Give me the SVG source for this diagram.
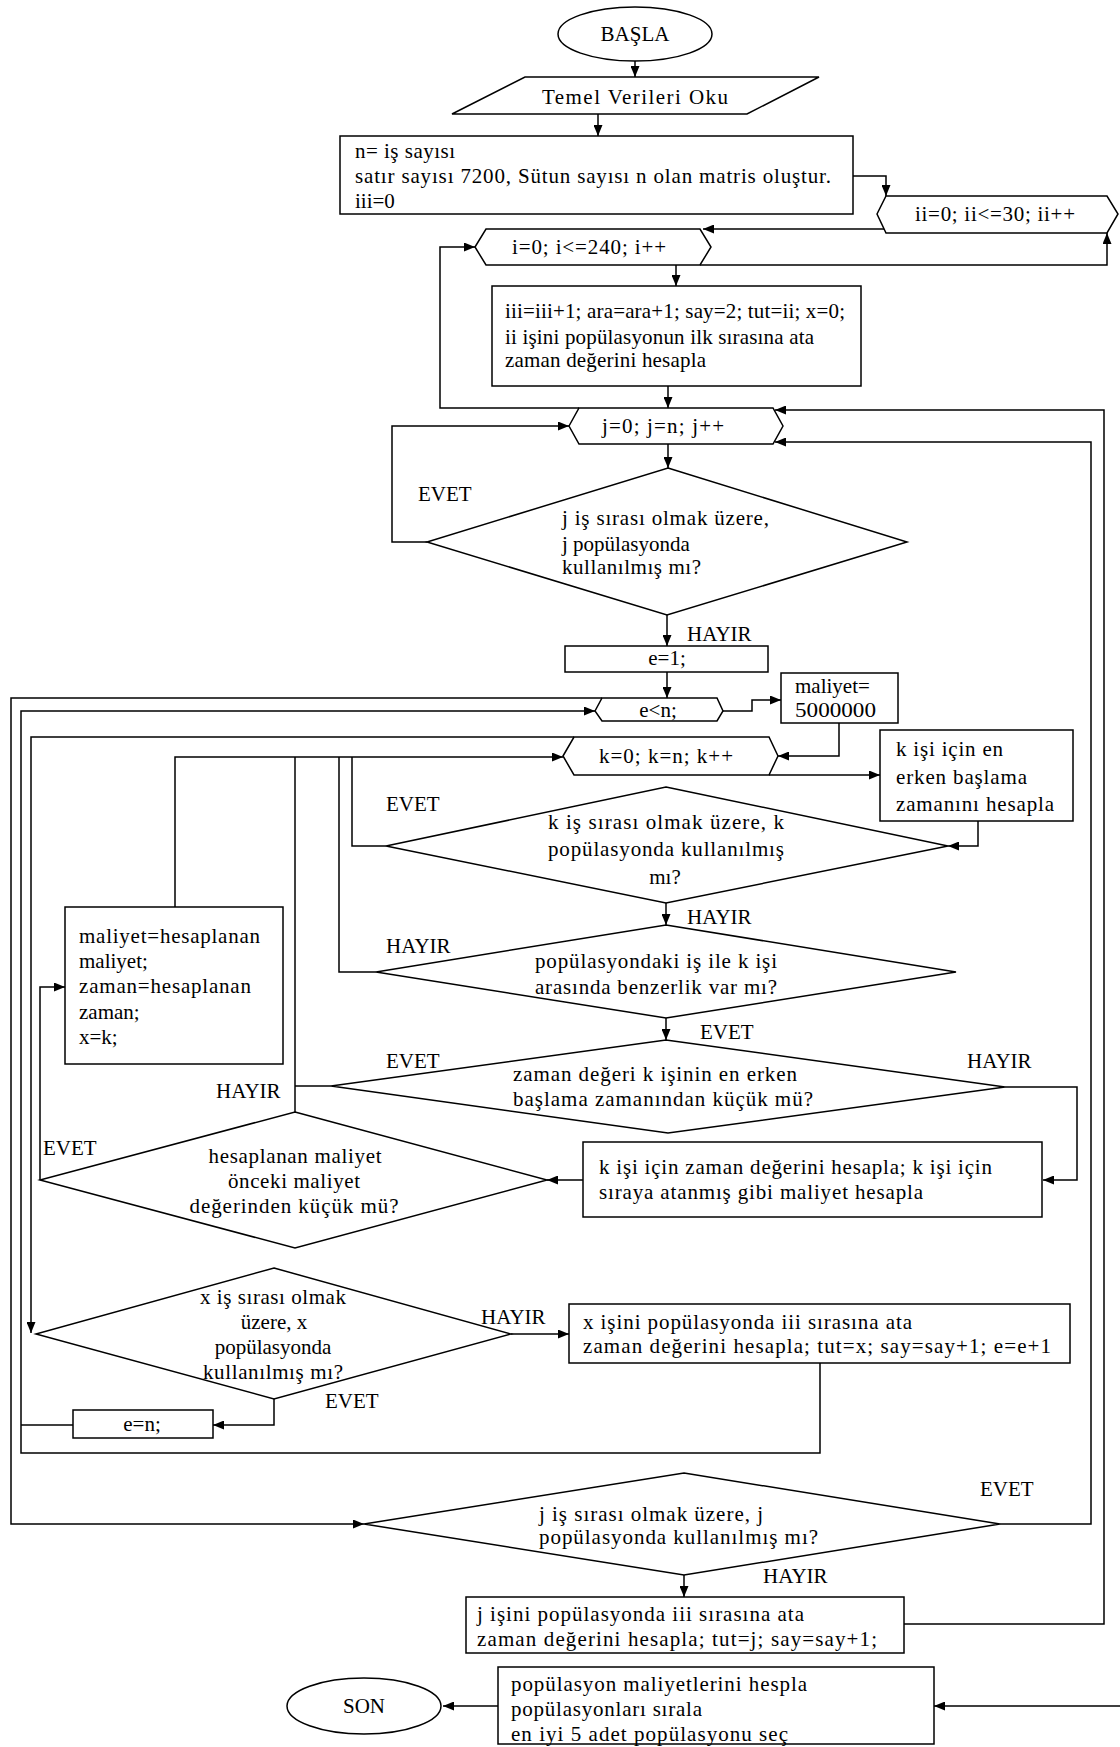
<svg xmlns="http://www.w3.org/2000/svg" width="1120" height="1747" viewBox="0 0 1120 1747">
<style>
.s{fill:#fff;stroke:#000;stroke-width:1.5}
.c{fill:none;stroke:#000;stroke-width:1.5}
.a{marker-end:url(#ar)}
text{font-family:"Liberation Serif","Times New Roman",serif;font-size:21px;fill:#000}
.m{text-anchor:middle}
</style>
<defs>
<marker id="ar" markerWidth="11" markerHeight="9" refX="11" refY="4.5" orient="auto" markerUnits="userSpaceOnUse"><path d="M0,0 L11,4.5 L0,9 z" fill="#000"/></marker>
</defs>
<rect width="1120" height="1747" fill="#fff"/>

<g id="connectors">
<path class="c a" d="M635,61 V77"/>
<path class="c a" d="M598,114 V136"/>
<path class="c a" d="M853,176 H886 V196"/>
<path class="c a" d="M884,229 H703"/>
<path class="c a" d="M700,265 H1107 V233"/>
<path class="c a" d="M676,265 V286"/>
<path class="c a" d="M668,386 V408"/>
<path class="c a" d="M579,408 H440 V247 H475"/>
<path class="c a" d="M668,444 V468"/>
<path class="c a" d="M427,542 H392 V426 H569"/>
<path class="c a" d="M667,615 V646"/>
<path class="c a" d="M667,672 V698"/>
<path class="c a" d="M723,711 H752 V700 H781"/>
<path class="c a" d="M839,723 V756 H778"/>
<path class="c a" d="M769,775 H880"/>
<path class="c a" d="M978,821 V846 H948"/>
<path class="c a" d="M666,903 V925"/>
<path class="c a" d="M666,1018 V1040"/>
<path class="c" d="M386,846 H352 V757"/>
<path class="c" d="M376,972 H339 V757"/>
<path class="c a" d="M175,907 V757 H563"/>
<path class="c" d="M295,1112 V757"/>
<path class="c" d="M331,1086 H295"/>
<path class="c a" d="M1005,1087 H1077 V1180 H1043"/>
<path class="c a" d="M583,1180 H547"/>
<path class="c a" d="M40,1180 V987 H65"/>
<path class="c a" d="M574,737 H31 V1333"/>
<path class="c a" d="M511,1334 H569"/>
<path class="c a" d="M274,1399 V1425 H213"/>
<path class="c" d="M73,1425 H21"/>
<path class="c a" d="M820,1363 V1453 H21 V711 H595"/>
<path class="c a" d="M602,698 H11 V1524 H364"/>
<path class="c a" d="M1000,1524 H1091 V442 H775"/>
<path class="c a" d="M684,1575 V1597"/>
<path class="c a" d="M904,1624 H1104 V410 H775"/>
<path class="c a" d="M1120,1706 H934"/>
<path class="c a" d="M498,1706 H443"/>
</g>

<g id="basla"><ellipse class="s" cx="635" cy="34" rx="77" ry="27"/><text class="m" x="635" y="41">BAŞLA</text></g>
<g id="oku"><polygon class="s" points="525,77 819,77 747,114 452,114"/><text class="m" x="635" y="104" textLength="186" lengthAdjust="spacing">Temel Verileri Oku</text></g>
<g id="init"><rect class="s" x="340" y="136" width="513" height="78"/>
<text x="355" y="158" textLength="100" lengthAdjust="spacing">n= iş sayısı</text>
<text x="355" y="183" textLength="476" lengthAdjust="spacing">satır sayısı 7200, Sütun sayısı n olan matris oluştur.</text>
<text x="355" y="208">iii=0</text></g>
<g id="loop-ii"><polygon class="s" points="877,214 886,196 1107,196 1118,214 1107,233 886,233"/><text class="m" x="995" y="221" textLength="160" lengthAdjust="spacing">ii=0; ii&lt;=30; ii++</text></g>
<g id="loop-i"><polygon class="s" points="475,247 486,229 700,229 711,247 700,265 486,265"/><text class="m" x="589" y="254" textLength="154" lengthAdjust="spacing">i=0; i&lt;=240; i++</text></g>
<g id="iii"><rect class="s" x="492" y="286" width="369" height="100"/>
<text x="505" y="318" textLength="340" lengthAdjust="spacing">iii=iii+1;  ara=ara+1; say=2; tut=ii;  x=0;</text>
<text x="505" y="344" textLength="309" lengthAdjust="spacing">ii işini popülasyonun ilk sırasına ata</text>
<text x="505" y="367" textLength="201" lengthAdjust="spacing">zaman değerini hesapla</text></g>
<g id="loop-j"><polygon class="s" points="569,426 579,408 773,408 783,426 773,444 579,444"/><text class="m" x="663" y="433" textLength="122" lengthAdjust="spacing">j=0; j=n; j++</text></g>
<g id="d1"><polygon class="s" points="668,468 907,542 667,615 427,542"/>
<text x="562" y="525" textLength="207" lengthAdjust="spacing">j iş sırası olmak üzere,</text>
<text x="562" y="551">j popülasyonda</text>
<text x="562" y="574" textLength="139" lengthAdjust="spacing">kullanılmış mı?</text>
<text x="418" y="501">EVET</text><text x="687" y="641">HAYIR</text></g>
<g id="e1"><rect class="s" x="565" y="646" width="203" height="26"/><text class="m" x="667" y="665">e=1;</text></g>
<g id="loop-e"><polygon class="s" points="595,711 602,698 717,698 723,711 717,721 602,721"/><text class="m" x="658" y="717">e&lt;n;</text></g>
<g id="maliyet0"><rect class="s" x="781" y="673" width="117" height="50"/><text x="795" y="693">maliyet=</text><text x="795" y="717" textLength="81" lengthAdjust="spacingAndGlyphs">5000000</text></g>
<g id="loop-k"><polygon class="s" points="563,756 574,737 769,737 778,756 769,775 574,775"/><text class="m" x="666" y="763" textLength="134" lengthAdjust="spacing">k=0; k=n; k++</text></g>
<g id="kbox"><rect class="s" x="880" y="730" width="193" height="91"/>
<text x="896" y="756" textLength="107" lengthAdjust="spacing">k işi için en</text>
<text x="896" y="784" textLength="131" lengthAdjust="spacing">erken başlama</text>
<text x="896" y="811" textLength="158" lengthAdjust="spacing">zamanını hesapla</text></g>
<g id="d2"><polygon class="s" points="666,787 948,846 666,903 386,846"/>
<text class="m" x="666" y="829" textLength="236" lengthAdjust="spacing">k iş sırası olmak üzere, k</text>
<text class="m" x="666" y="856" textLength="236" lengthAdjust="spacing">popülasyonda kullanılmış</text>
<text class="m" x="665" y="884">mı?</text>
<text x="386" y="811">EVET</text><text x="687" y="924">HAYIR</text></g>
<g id="d3"><polygon class="s" points="666,925 956,972 666,1018 376,972"/>
<text class="m" x="656" y="968" textLength="242" lengthAdjust="spacing">popülasyondaki iş ile k işi</text>
<text class="m" x="656" y="994" textLength="242" lengthAdjust="spacing">arasında benzerlik var mı?</text>
<text x="386" y="953">HAYIR</text><text x="700" y="1039">EVET</text></g>
<g id="d4"><polygon class="s" points="666,1040 1005,1087 668,1133 331,1086"/>
<text x="513" y="1081" textLength="284" lengthAdjust="spacing">zaman değeri k işinin en erken</text>
<text x="513" y="1106" textLength="300" lengthAdjust="spacing">başlama zamanından küçük mü?</text>
<text x="386" y="1068">EVET</text><text x="967" y="1068">HAYIR</text></g>
<g id="kzaman"><rect class="s" x="583" y="1142" width="459" height="75"/>
<text x="599" y="1174" textLength="393" lengthAdjust="spacing">k işi için zaman değerini hesapla; k işi için</text>
<text x="599" y="1199" textLength="324" lengthAdjust="spacing">sıraya atanmış gibi maliyet hesapla</text></g>
<g id="d5"><polygon class="s" points="295,1112 547,1180 295,1248 40,1180"/>
<text class="m" x="295" y="1163" textLength="173" lengthAdjust="spacing">hesaplanan maliyet</text>
<text class="m" x="294" y="1188" textLength="132" lengthAdjust="spacing">önceki maliyet</text>
<text class="m" x="294" y="1213" textLength="209" lengthAdjust="spacing">değerinden küçük mü?</text>
<text x="43" y="1155">EVET</text><text x="216" y="1098">HAYIR</text></g>
<g id="mbox"><rect class="s" x="65" y="907" width="218" height="157"/>
<text x="79" y="943" textLength="181" lengthAdjust="spacing">maliyet=hesaplanan</text>
<text x="79" y="968">maliyet;</text>
<text x="79" y="993" textLength="172" lengthAdjust="spacing">zaman=hesaplanan</text>
<text x="79" y="1019">zaman;</text>
<text x="79" y="1044">x=k;</text></g>
<g id="d6"><polygon class="s" points="274,1268 511,1334 274,1399 36,1334"/>
<text class="m" x="273" y="1304" textLength="146" lengthAdjust="spacing">x iş sırası olmak</text>
<text class="m" x="274" y="1329">üzere, x</text>
<text class="m" x="273" y="1354">popülasyonda</text>
<text class="m" x="273" y="1379" textLength="140" lengthAdjust="spacing">kullanılmış mı?</text>
<text x="325" y="1408">EVET</text><text x="481" y="1324">HAYIR</text></g>
<g id="xbox"><rect class="s" x="569" y="1304" width="501" height="59"/>
<text x="583" y="1329" textLength="329" lengthAdjust="spacing">x işini popülasyonda iii sırasına ata</text>
<text x="583" y="1353" textLength="468" lengthAdjust="spacing">zaman değerini hesapla;  tut=x; say=say+1; e=e+1</text></g>
<g id="en"><rect class="s" x="73" y="1410" width="140" height="28"/><text class="m" x="142" y="1431">e=n;</text></g>
<g id="d7"><polygon class="s" points="684,1473 1000,1524 684,1575 364,1524"/>
<text x="539" y="1521" textLength="224" lengthAdjust="spacing">j iş sırası olmak üzere, j</text>
<text x="539" y="1544" textLength="279" lengthAdjust="spacing">popülasyonda kullanılmış mı?</text>
<text x="980" y="1496">EVET</text><text x="763" y="1583">HAYIR</text></g>
<g id="jbox"><rect class="s" x="466" y="1597" width="438" height="56"/>
<text x="477" y="1621" textLength="327" lengthAdjust="spacing">j işini popülasyonda iii sırasına ata</text>
<text x="477" y="1646" textLength="400" lengthAdjust="spacing">zaman değerini hesapla;  tut=j; say=say+1;</text></g>
<g id="pbox"><rect class="s" x="498" y="1667" width="436" height="77"/>
<text x="511" y="1691" textLength="296" lengthAdjust="spacing">popülasyon maliyetlerini hespla</text>
<text x="511" y="1716" textLength="191" lengthAdjust="spacing">popülasyonları sırala</text>
<text x="511" y="1741" textLength="277" lengthAdjust="spacing">en iyi 5 adet popülasyonu seç</text></g>
<g id="son"><ellipse class="s" cx="364" cy="1706" rx="77" ry="28"/><text class="m" x="364" y="1713">SON</text></g>
</svg>
